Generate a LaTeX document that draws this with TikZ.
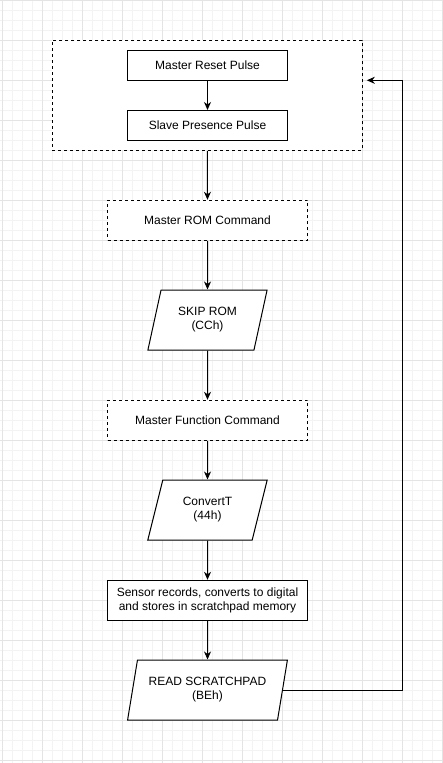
\documentclass[tikz,border=0pt]{standalone}
\usepackage{fontspec}
\setmainfont{Liberation Sans}
\usetikzlibrary{shapes.geometric,arrows.meta,calc}
\definecolor{gridminor}{RGB}{243,243,243}
\definecolor{gridmajor}{RGB}{228,228,228}
\begin{document}
\begin{tikzpicture}[x=1pt,y=-1pt,
  font=\fontsize{12}{14}\selectfont,
  box/.style={draw=black, fill=white, line width=1pt, rectangle, inner sep=0pt, align=center},
  dashbox/.style={box, dash pattern=on 3pt off 3pt},
  para/.style={draw=black, fill=white, line width=1pt, trapezium,
     trapezium left angle=71.565, trapezium right angle=108.435,
     trapezium stretches=true, inner sep=0pt, align=center},
  arr/.style={line width=1pt, -{Stealth[length=8pt,width=7pt,inset=2.5pt]}}]
\useasboundingbox (0,0) rectangle (443,763);
\fill[white] (0,0) rectangle (443,763);
% grid
\foreach \x in {2.5,12.5,...,442.5} \draw[gridminor, line width=0.8pt] (\x,0) -- (\x,763);
\foreach \y in {0.5,10.5,...,762.5} \draw[gridminor, line width=0.8pt] (0,\y) -- (443,\y);
\foreach \x in {2.5,42.5,...,442.5} \draw[gridmajor, line width=0.8pt] (\x,0) -- (\x,763);
\foreach \y in {0.5,40.5,...,762.5} \draw[gridmajor, line width=0.8pt] (0,\y) -- (443,\y);

\node[dashbox, minimum width=310pt, minimum height=110pt] (outer) at (207.3,95.3) {};
\node[box, minimum width=160pt, minimum height=30pt] (mrp) at (207.5,65.5) {Master Reset Pulse};
\node[box, minimum width=160pt, minimum height=30pt] (spp) at (207.5,125.5) {Slave Presence Pulse};
\node[dashbox, minimum width=200pt, minimum height=40pt] (mrom) at (207.5,220.3) {Master ROM Command};
\node[para, minimum width=120pt, minimum height=60pt] (skip) at (207.5,320) {SKIP ROM\\(CCh)};
\node[dashbox, minimum width=200pt, minimum height=40pt] (mfc) at (207.5,420.3) {Master Function Command};
\node[para, minimum width=120pt, minimum height=60pt] (conv) at (207.5,510) {ConvertT\\(44h)};
\node[box, minimum width=200pt, minimum height=40pt] (sens) at (207.5,600.3) {Sensor records, converts to digital\\and stores in scratchpad memory};
\node[para, minimum width=160pt, minimum height=60pt] (read) at (207.5,690) {READ SCRATCHPAD\\(BEh)};
\coordinate (loop) at (402.7,80.3);

\draw[arr] (mrp) -- (spp);
\draw[arr] (outer) -- (mrom);
\draw[arr] (mrom) -- (skip);
\draw[arr] (skip) -- (mfc);
\draw[arr] (mfc) -- (conv);
\draw[arr] (conv) -- (sens);
\draw[arr] (sens) -- (read);
\draw[arr, shorten >=4pt] (read.east) -- (read.east -| loop) -- (loop) -- (outer.east |- loop);
\end{tikzpicture}
\end{document}
